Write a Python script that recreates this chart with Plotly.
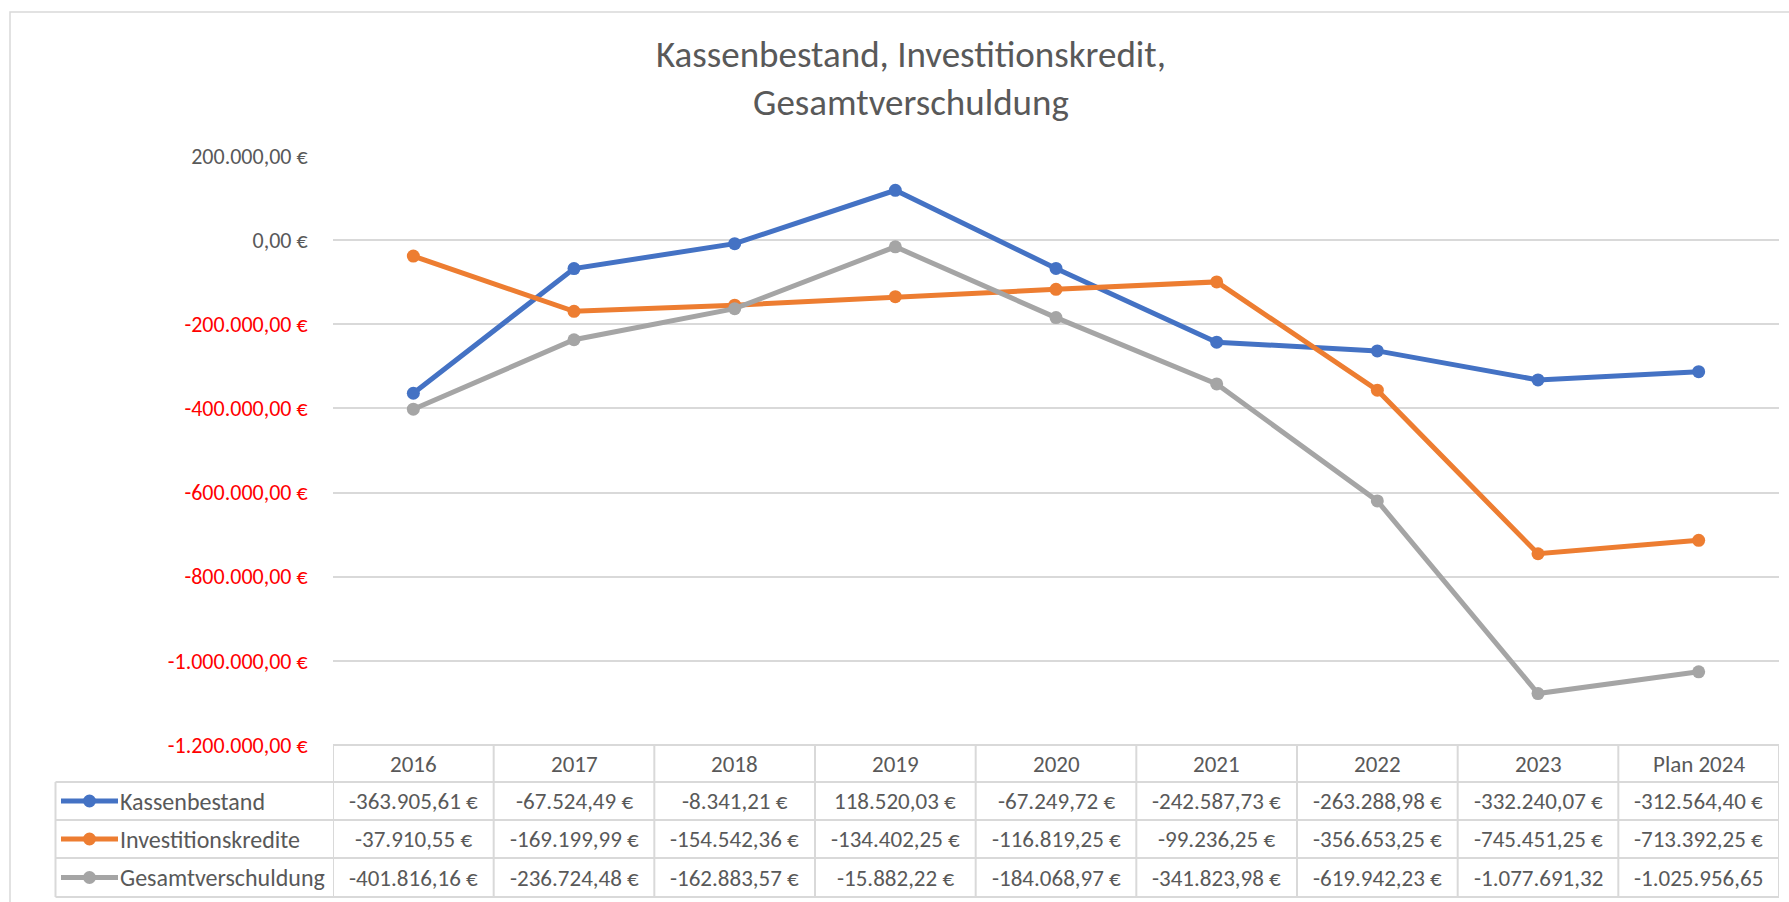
import plotly.graph_objects as go

# ---------------- data ----------------
categories = ["2016", "2017", "2018", "2019", "2020", "2021", "2022", "2023", "Plan 2024"]
kassenbestand = [-363905.61, -67524.49, -8341.21, 118520.03, -67249.72,
                 -242587.73, -263288.98, -332240.07, -312564.40]
investitionskredite = [-37910.55, -169199.99, -154542.36, -134402.25, -116819.25,
                       -99236.25, -356653.25, -745451.25, -713392.25]
gesamtverschuldung = [-401816.16, -236724.48, -162883.57, -15882.22, -184068.97,
                      -341823.98, -619942.23, -1077691.32, -1025956.65]
series_names = ["Kassenbestand", "Investitionskredite", "Gesamtverschuldung"]
series_colors = ["#4472C4", "#ED7D31", "#A5A5A5"]
y_ticks = [200000, 0, -200000, -400000, -600000, -800000, -1000000, -1200000]
title_lines = ["Kassenbestand, Investitionskredit,", "Gesamtverschuldung"]

series_values = [kassenbestand, investitionskredite, gesamtverschuldung]

# ---------------- layout geometry (pixels) ----------------
W, H = 1789, 902
L, R, T, B = 333, 1779, 156, 745
FONT = "Carlito, Calibri, Lato, sans-serif"
TXT = "#595959"
GRID = "#D9D9D9"


def px_x(p):
    return (p - L) / (R - L)


def px_y(p):
    return (B - p) / (B - T)


def de_num(v):
    s = f"{abs(v):,.2f}".replace(",", "X").replace(".", ",").replace("X", ".")
    return ("-" if v < 0 else "") + s


def cell_text(v):
    s = de_num(v)
    # Excel cuts the euro sign off when the cell is too narrow
    return s if len(s) > 12 else s + " €"


fig = go.Figure()
for name, vals, col in zip(series_names, series_values, series_colors):
    fig.add_trace(go.Scatter(
        x=categories, y=vals, name=name, mode="lines+markers",
        line=dict(color=col, width=5),
        marker=dict(color=col, size=13),
        showlegend=False, cliponaxis=False,
    ))

ticktext = []
for t in y_ticks:
    c = "#FF0000" if t < 0 else TXT
    ticktext.append(f'<span style="color:{c}">{de_num(t)} €</span>')

shapes = []
annotations = []

# outer chart border
shapes.append(dict(type="rect", xref="paper", yref="paper",
                   x0=px_x(10), x1=px_x(1800), y0=px_y(12), y1=px_y(920),
                   line=dict(color=GRID, width=1.5), layer="below"))

# data table
rows_y = [745, 782, 820, 858, 897]
key_left = 55.5
for i, yy in enumerate(rows_y):
    x0 = L if i == 0 else key_left
    shapes.append(dict(type="line", xref="paper", yref="paper",
                       x0=px_x(x0), x1=1, y0=px_y(yy), y1=px_y(yy),
                       line=dict(color=GRID, width=2)))
for i in range(len(categories) + 1):
    shapes.append(dict(type="line", xref="x", yref="paper",
                       x0=i - 0.5, x1=i - 0.5, y0=px_y(rows_y[0]), y1=px_y(rows_y[-1]),
                       line=dict(color=GRID, width=2)))
shapes.append(dict(type="line", xref="paper", yref="paper",
                   x0=px_x(key_left), x1=px_x(key_left), y0=px_y(rows_y[1]), y1=px_y(rows_y[-1]),
                   line=dict(color=GRID, width=2)))

hdr_y = (rows_y[0] + rows_y[1]) / 2
for i, c in enumerate(categories):
    annotations.append(dict(x=i, xref="x", y=px_y(hdr_y), yref="paper",
                            text=c, showarrow=False, xanchor="center", yanchor="middle",
                            font=dict(family=FONT, size=23, color=TXT)))

for r, (name, vals, col) in enumerate(zip(series_names, series_values, series_colors)):
    cy = (rows_y[r + 1] + rows_y[r + 2]) / 2
    for i, v in enumerate(vals):
        annotations.append(dict(x=i, xref="x", y=px_y(cy), yref="paper",
                                text=cell_text(v), showarrow=False,
                                xanchor="center", yanchor="middle",
                                font=dict(family=FONT, size=23, color=TXT)))
    annotations.append(dict(x=px_x(120), xref="paper", y=px_y(cy), yref="paper",
                            text=name, showarrow=False, xanchor="left", yanchor="middle",
                            xshift=-2,
                            font=dict(family=FONT, size=24, color=TXT)))
    shapes.append(dict(type="line", xref="paper", yref="paper",
                       x0=px_x(61), x1=px_x(118), y0=px_y(cy), y1=px_y(cy),
                       line=dict(color=col, width=5)))
    shapes.append(dict(type="circle", xref="paper", yref="paper",
                       xsizemode="pixel", ysizemode="pixel",
                       xanchor=px_x(89.5), yanchor=px_y(cy),
                       x0=-6.5, x1=6.5, y0=-6.5, y1=6.5,
                       fillcolor=col, line=dict(width=0)))

# title
annotations.append(dict(x=px_x(911), xref="paper", y=px_y(78.5), yref="paper",
                        text="<br>".join(title_lines), showarrow=False,
                        xanchor="center", yanchor="middle", align="center",
                        font=dict(family=FONT, size=37, color=TXT)))

fig.update_layout(
    width=W, height=H, autosize=False,
    margin=dict(l=L, r=W - R, t=T, b=H - B, pad=0),
    paper_bgcolor="white", plot_bgcolor="white",
    font=dict(family=FONT, color=TXT),
    shapes=shapes, annotations=annotations,
    xaxis=dict(type="category", range=[-0.5, len(categories) - 0.5],
               showticklabels=False, showgrid=False, zeroline=False, showline=False,
               ticks=""),
    yaxis=dict(range=[y_ticks[-1], y_ticks[0]], tickmode="array",
               tickvals=y_ticks, ticktext=ticktext,
               showgrid=True, gridcolor=GRID, gridwidth=1.5,
               zeroline=False, showline=False,
               ticks="outside", ticklen=20, tickcolor="rgba(0,0,0,0)",
               tickfont=dict(family=FONT, size=22, color=TXT)),
)

fig.write_html("out.html", config={"displayModeBar": False},
               post_script="document.body.style.margin='0';")
